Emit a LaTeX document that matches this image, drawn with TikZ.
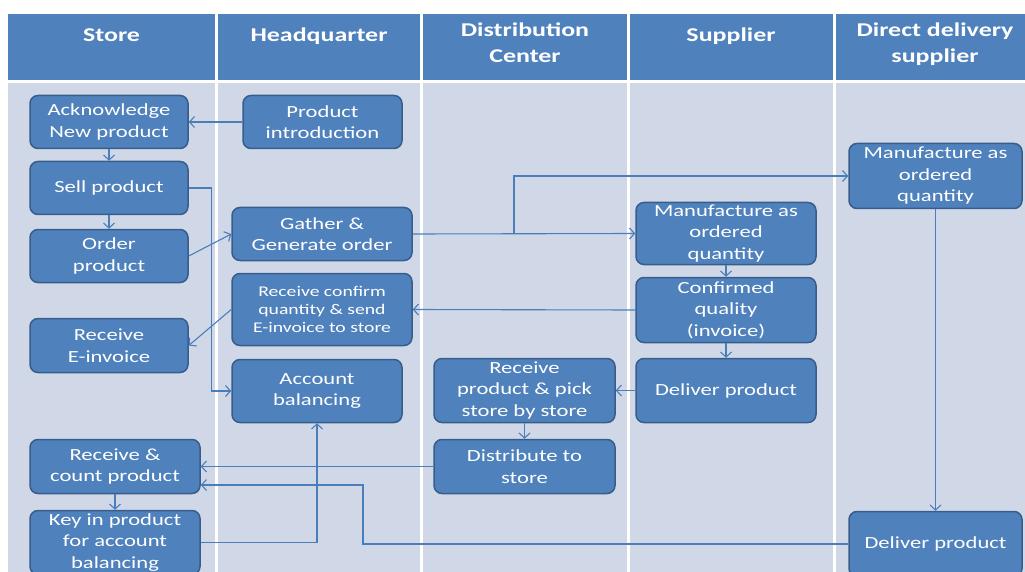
\documentclass[tikz,border=0pt]{standalone}
\usepackage{fontspec}
\setmainfont{Carlito}[FakeStretch=1.33]
\usetikzlibrary{arrows.meta}
\definecolor{laneblue}{HTML}{4F81BD}
\definecolor{lanegray}{HTML}{D0D8E8}
\definecolor{boxedge}{HTML}{385D8A}
\definecolor{flowline}{HTML}{4A7EBB}
\tikzset{
	lanehead/.style={text=white, font=\bfseries\fontsize{19.5}{25.5}\selectfont, align=center, anchor=north, inner sep=0pt, execute at begin node=\strut},
	task/.style={draw=boxedge, line width=1.5pt, fill=laneblue, rounded corners=8pt, text=white, align=center, font=\fontsize{17}{21.5}\selectfont, inner sep=0pt},
	flow/.style={draw=flowline, line width=1.1pt, -{Straight Barb[length=5pt,width=11pt]}},
}

\begin{document}
\begin{tikzpicture}[x=1pt, y=-1pt]
		%%%%% START %%%%%
		\useasboundingbox (0,0) rectangle (1025,572);
		
		\fill[laneblue] (8,14) rectangle (1025,80);
		\fill[lanegray] (8,83) rectangle (1025,572);
		\foreach \x in {216.5,421.5,628.5,834.5}
			\draw[white, line width=3pt] (\x,14) -- (\x,572);
		
		\node[lanehead] (hstore) at (111.5,23) {Store};
		\node[lanehead] (hquarter) at (319,23) {Headquarter};
		\node[lanehead] (hcenter) at (525,23) {Distribution\\Center};
		\node[lanehead] (hsupplier) at (731,23) {Supplier};
		\node[lanehead] (hdirect) at (935,23) {Direct delivery\\supplier};
		
		% store
		\node[task, minimum width=158pt, minimum height=53pt] (acknew) at (109,122) {Acknowledge\\New product};
		\node[task, minimum width=158pt, minimum height=53pt] (sell) at (109,188) {Sell product};
		\node[task, minimum width=158pt, minimum height=53pt] (order) at (109,256) {Order\\product};
		\node[task, minimum width=158pt, minimum height=54pt] (einvoice) at (109,345.5) {Receive\\E-invoice};
		\node[task, minimum width=170pt, minimum height=54pt] (count) at (115,466.5) {Receive \&\\count product};
		\node[task, minimum width=170pt, minimum height=64pt] (keyin) at (115,542.5) {Key in product\\for account\\balancing};
		
		% headquarter
		\node[task, minimum width=159pt, minimum height=53pt] (intro) at (322.5,122) {Product\\introduction};
		\node[task, minimum width=180pt, minimum height=53pt] (gather) at (322,234) {Gather \&\\Generate order};
		\node[task, minimum width=180pt, minimum height=72pt, font=\fontsize{14.8}{18}\selectfont] (confirm) at (322,309.5) {Receive confirm\\quantity \& send\\E-invoice to store};
		\node[task, minimum width=170pt, minimum height=63pt] (balance) at (317,391) {Account\\balancing};
		
		% distribution center
		\node[task, minimum width=181pt, minimum height=64pt] (pick) at (524.5,390.5) {Receive\\product \& pick\\store by store};
		\node[task, minimum width=181pt, minimum height=54pt] (distribute) at (524.5,466.5) {Distribute to\\store};
		
		% supplier
		\node[task, minimum width=180pt, minimum height=62pt] (smanufacture) at (726,233.5) {Manufacture as\\ordered\\quantity};
		\node[task, minimum width=180pt, minimum height=65pt] (squality) at (726,310) {Confirmed\\quality\\(invoice)};
		\node[task, minimum width=180pt, minimum height=64pt] (sdeliver) at (726,390.5) {Deliver product};
		
		% direct delivery supplier
		\node[task, minimum width=173pt, minimum height=65pt] (dmanufacture) at (935.5,176) {Manufacture as\\ordered\\quantity};
		\node[task, minimum width=173pt, minimum height=65pt] (ddeliver) at (935.5,544) {Deliver product};
		
		\coordinate (split) at (514,234);
		\coordinate (back) at (363,485);
		
		\draw[flow] (intro) -- (acknew);
		\draw[flow] (acknew) -- (sell);
		\draw[flow] (sell) -- (order);
		\draw[flow] (order.east) -- (gather.west);
		\draw[flow] (sell.east) -- ++(23,0) |- (balance.west);
		\draw[flow] (gather.east) -- (smanufacture.west);
		\draw[flow] (split) |- (dmanufacture.west);
		\draw[flow] (smanufacture) -- (squality);
		\draw[flow] (squality) -- (sdeliver);
		\draw[flow] (squality.west) -- (confirm.east);
		\draw[flow] (confirm.west) -- (einvoice.east);
		\draw[flow] (sdeliver) -- (pick);
		\draw[flow] (pick) -- (distribute);
		\draw[flow] (distribute.west) -- (count.east);
		\draw[flow] (count) -- (keyin);
		\draw[flow] (keyin.east) -| (balance.south);
		\draw[flow] (dmanufacture) -- (ddeliver);
		\draw[flow] (ddeliver.west) -| (back) -- (count.east |- back);
		
		%%%%% END %%%%%
	\end{tikzpicture}
\end{document}
